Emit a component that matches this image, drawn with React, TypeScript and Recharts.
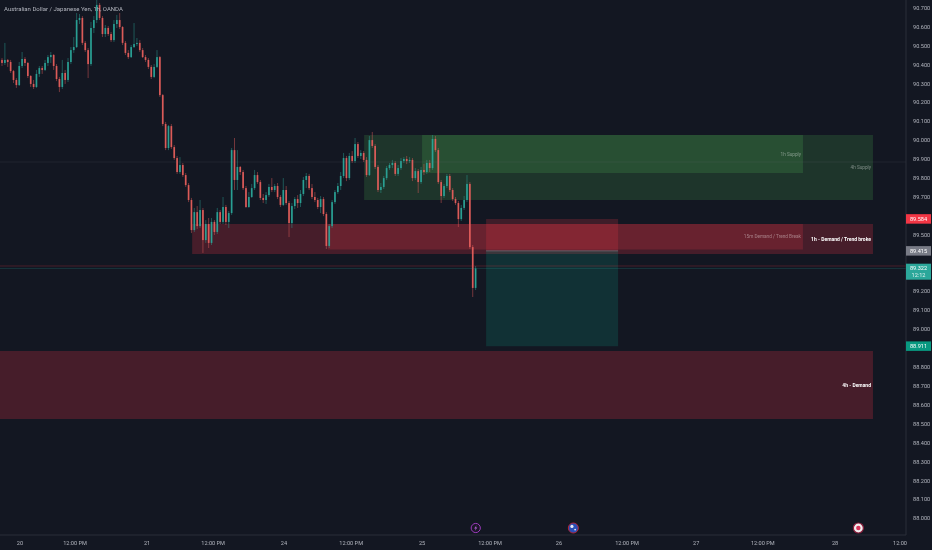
import { Bar, ComposedChart, Label, ReferenceArea, ReferenceDot, ReferenceLine, XAxis, YAxis } from 'recharts';

const BG = '#131722';
const UP = '#2ba79a';
const DOWN = '#e85f5c';
const GRID = '#2a2e39';
const TEXT = '#b2b5be';
const FONT = 'Roboto, sans-serif';

const TITLE = 'Australian Dollar / Japanese Yen, 1h, OANDA';

const FIRST_OPEN = 90.425;
const CLOSE = [
  90.409, 90.425, 90.414, 90.366, 90.319, 90.292, 90.393, 90.43, 90.409, 90.34,
  90.298, 90.282, 90.351, 90.382, 90.372, 90.409, 90.44, 90.451, 90.393, 90.324,
  90.282, 90.356, 90.319, 90.414, 90.477, 90.493, 90.636, 90.647, 90.515, 90.477,
  90.403, 90.594, 90.636, 90.716, 90.647, 90.562, 90.594, 90.562, 90.53, 90.615,
  90.636, 90.599, 90.515, 90.462, 90.44, 90.493, 90.509, 90.515, 90.477, 90.44,
  90.425, 90.388, 90.335, 90.388, 90.44, 90.239, 90.086, 89.959, 90.075, 89.964,
  89.906, 89.832, 89.869, 89.816, 89.763, 89.684, 89.525, 89.62, 89.546, 89.631,
  89.472, 89.557, 89.457, 89.568, 89.515, 89.62, 89.568, 89.647, 89.568, 89.615,
  89.948, 89.79, 89.859, 89.832, 89.747, 89.647, 89.7, 89.747, 89.816, 89.779,
  89.695, 89.684, 89.71, 89.753, 89.737, 89.758, 89.7, 89.658, 89.737, 89.668,
  89.562, 89.652, 89.689, 89.668, 89.716, 89.79, 89.811, 89.747, 89.7, 89.684,
  89.647, 89.689, 89.61, 89.441, 89.546, 89.673, 89.726, 89.758, 89.811, 89.906,
  89.8, 89.917, 89.89, 89.98, 89.917, 89.933, 89.896, 89.816, 90.001, 89.97,
  89.859, 89.737, 89.753, 89.8, 89.853, 89.869, 89.88, 89.822, 89.853, 89.89,
  89.901, 89.89, 89.896, 89.8, 89.837, 89.779, 89.843, 89.832, 89.88, 89.853,
  90.007, 89.948, 89.779, 89.705, 89.758, 89.811, 89.737, 89.689, 89.668, 89.583,
  89.642, 89.684, 89.769, 89.435, 89.219, 89.322,
];
const HIGH = [
  90.435, 90.515, 90.43, 90.425, 90.372, 90.329, 90.414, 90.467, 90.44, 90.414,
  90.345, 90.319, 90.372, 90.393, 90.393, 90.425, 90.451, 90.467, 90.456, 90.403,
  90.335, 90.425, 90.372, 90.435, 90.493, 90.546, 90.673, 90.668, 90.657, 90.525,
  90.488, 90.626, 90.657, 90.742, 90.726, 90.657, 90.61, 90.604, 90.573, 90.636,
  90.663, 90.673, 90.604, 90.525, 90.477, 90.504, 90.62, 90.541, 90.53, 90.488,
  90.451, 90.435, 90.398, 90.403, 90.477, 90.446, 90.245, 90.097, 90.081, 90.086,
  89.975, 89.917, 89.911, 89.88, 89.827, 89.774, 89.695, 89.642, 89.652, 89.684,
  89.642, 89.578, 89.589, 89.589, 89.578, 89.642, 89.631, 89.7, 89.658, 89.626,
  89.959, 90.012, 89.948, 89.864, 89.843, 89.758, 89.726, 89.769, 89.843, 89.832,
  89.79, 89.716, 89.726, 89.769, 89.8, 89.769, 89.774, 89.71, 89.8, 89.758,
  89.679, 89.668, 89.7, 89.71, 89.737, 89.806, 89.827, 89.822, 89.769, 89.726,
  89.695, 89.705, 89.7, 89.62, 89.557, 89.684, 89.737, 89.774, 89.832, 89.933,
  89.917, 89.933, 89.943, 90.012, 89.991, 89.948, 89.943, 89.911, 90.023, 90.044,
  89.98, 89.869, 89.774, 89.811, 89.864, 89.88, 89.896, 89.89, 89.869, 89.906,
  89.911, 89.917, 89.911, 89.906, 89.853, 89.848, 89.859, 89.875, 89.896, 89.896,
  90.028, 90.023, 89.959, 89.79, 89.769, 89.822, 89.822, 89.747, 89.7, 89.679,
  89.658, 89.705, 89.816, 89.779, 89.446, 89.335,
];
const LOW = [
  90.393, 90.398, 90.388, 90.356, 90.303, 90.277, 90.287, 90.382, 90.393, 90.329,
  90.282, 90.271, 90.277, 90.335, 90.351, 90.366, 90.393, 90.409, 90.372, 90.313,
  90.255, 90.271, 90.298, 90.308, 90.403, 90.462, 90.488, 90.615, 90.504, 90.467,
  90.329, 90.393, 90.567, 90.62, 90.636, 90.546, 90.546, 90.552, 90.52, 90.52,
  90.594, 90.589, 90.504, 90.451, 90.43, 90.435, 90.488, 90.499, 90.467, 90.435,
  90.414, 90.377, 90.324, 90.329, 90.382, 90.229, 90.075, 89.948, 89.948, 89.954,
  89.896, 89.822, 89.822, 89.806, 89.753, 89.673, 89.509, 89.515, 89.531, 89.536,
  89.404, 89.457, 89.43, 89.446, 89.499, 89.504, 89.557, 89.557, 89.552, 89.536,
  89.605, 89.737, 89.737, 89.816, 89.737, 89.642, 89.642, 89.695, 89.737, 89.769,
  89.684, 89.668, 89.663, 89.7, 89.726, 89.726, 89.689, 89.647, 89.652, 89.658,
  89.488, 89.536, 89.636, 89.642, 89.647, 89.705, 89.747, 89.737, 89.689, 89.673,
  89.636, 89.615, 89.599, 89.425, 89.43, 89.536, 89.663, 89.716, 89.737, 89.8,
  89.784, 89.79, 89.88, 89.88, 89.906, 89.901, 89.885, 89.806, 89.811, 89.959,
  89.848, 89.726, 89.721, 89.742, 89.79, 89.843, 89.853, 89.811, 89.811, 89.843,
  89.88, 89.874, 89.88, 89.784, 89.79, 89.721, 89.769, 89.816, 89.822, 89.832,
  89.843, 89.938, 89.769, 89.668, 89.695, 89.747, 89.726, 89.679, 89.658, 89.541,
  89.573, 89.631, 89.673, 89.425, 89.171, 89.208,
];

// 89.600, 89.400, 89.300 and 88.900 sit under the price tags
const PRICE_TICKS = [
  88.0, 88.1, 88.2, 88.3, 88.4, 88.5, 88.6, 88.7, 88.8, 89.0, 89.1, 89.2,
  89.5, 89.7, 89.8, 89.9, 90.0, 90.1, 90.2, 90.3, 90.4, 90.5, 90.6, 90.7,
];
const TIME_TICKS = [6.2, 25.4, 50.5, 73.5, 98.2, 121.6, 146.3, 170, 194, 217.7, 241.8, 265, 290.2, 312.8];
const TIME_LABELS = [
  '20', '12:00 PM', '21', '12:00 PM', '24', '12:00 PM', '25', '12:00 PM', '26', '12:00 PM', '27', '12:00 PM', '28', '12:00',
];

const X_MIN = -0.75;
const X_MAX = 314.9;
const Y_MIN = 87.912;
const Y_MAX = 90.742;

const candles = CLOSE.map((close, i) => ({
  i,
  open: i === 0 ? FIRST_OPEN : CLOSE[i - 1],
  close,
  high: HIGH[i],
  low: LOW[i],
}));

function Candle(props: any) {
  const { x, y, width, height, payload } = props;
  const k = payload.high === payload.low ? 0 : height / (payload.high - payload.low);
  const yOpen = y + (payload.high - payload.open) * k;
  const yClose = y + (payload.high - payload.close) * k;
  const color = payload.close >= payload.open ? UP : DOWN;
  const mid = x + width / 2;
  return (
    <g>
      <line x1={mid} x2={mid} y1={y} y2={y + height} stroke={color} strokeWidth={0.7} strokeOpacity={0.65} />
      <rect
        x={mid - 0.85}
        y={Math.min(yOpen, yClose)}
        width={1.7}
        height={Math.max(Math.abs(yClose - yOpen), 0.7)}
        fill={color}
        fillOpacity={0.9}
      />
    </g>
  );
}

function PriceTag({ cx, cy, color, text, sub }: any) {
  const h = sub ? 16 : 9.5;
  return (
    <g fontFamily={FONT} fontSize={5.6} fill="#fff" textAnchor="middle">
      <rect x={cx} y={cy - 4.75} width={25} height={h} fill={color} />
      <text x={cx + 12.5} y={cy + 2}>{text}</text>
      {sub && <text x={cx + 12.5} y={cy + 8.8} fillOpacity={0.85}>{sub}</text>}
    </g>
  );
}

function BoltIcon({ cx, cy }: any) {
  return (
    <g>
      <circle cx={cx} cy={cy} r={4.6} fill="#1a1626" stroke="#9c3bbd" strokeWidth={1} />
      <path
        d={`M${cx + 1} ${cy - 3}L${cx - 1.6} ${cy + 0.4}H${cx}L${cx - 1} ${cy + 3}L${cx + 1.6} ${cy - 0.5}H${cx}Z`}
        fill="#b561d6"
      />
    </g>
  );
}

function FlagIcon({ cx, cy }: any) {
  return (
    <g>
      <circle cx={cx} cy={cy} r={5} fill="#2a4fb8" stroke="#b3263a" strokeWidth={1} />
      <circle cx={cx - 1.4} cy={cy - 1.6} r={1.6} fill="#e8e8f2" />
      <circle cx={cx + 1.8} cy={cy + 1.6} r={0.9} fill="#e8e8f2" />
    </g>
  );
}

function TargetIcon({ cx, cy }: any) {
  return (
    <g>
      <circle cx={cx} cy={cy} r={5} fill="#f2eef0" stroke="#8a1f3c" strokeWidth={1.2} />
      <circle cx={cx} cy={cy} r={2.2} fill="#d8345a" />
    </g>
  );
}

const zoneLabel = (value: string, fill: string, fontWeight = 400) => (
  <Label
    value={value}
    position="insideRight"
    offset={2}
    fontSize={fontWeight === 700 ? 5 : 4.7}
    fontFamily={FONT}
    fontWeight={fontWeight}
    fill={fill}
  />
);

export default function App() {
  return (
    <div style={{ position: 'relative', width: 932, height: 550, background: BG, overflow: 'hidden', filter: 'blur(0.3px)' }}>
      <style>{`body{margin:0;background:${BG}}`}</style>
      <ComposedChart width={932} height={550} data={candles} margin={{ top: 0, right: 0, bottom: 0, left: 0 }}>
        <XAxis
          dataKey="i"
          type="number"
          domain={[X_MIN, X_MAX]}
          allowDataOverflow
          ticks={TIME_TICKS}
          interval={0}
          height={15}
          tickFormatter={(v: number) => TIME_LABELS[TIME_TICKS.indexOf(v)]}
          tick={{ fontSize: 5.6, fontFamily: FONT, fill: TEXT }}
          tickLine={false}
          tickSize={4}
          stroke={GRID}
        />
        <YAxis
          orientation="right"
          width={26}
          domain={[Y_MIN, Y_MAX]}
          allowDataOverflow
          ticks={PRICE_TICKS}
          interval={0}
          tickFormatter={(v: number) => v.toFixed(3)}
          tick={{ fontSize: 5.6, fontFamily: FONT, fill: TEXT, textAnchor: 'start' }}
          tickLine={false}
          tickSize={5}
          stroke={GRID}
        />

        <ReferenceArea x1={126.1} x2={303.4} y1={89.684} y2={90.028} fill="#4caf50" fillOpacity={0.2} stroke="none" ifOverflow="hidden">
          {zoneLabel('4h Supply', 'rgba(255,255,255,0.4)')}
        </ReferenceArea>
        <ReferenceArea x1={146.3} x2={279} y1={89.827} y2={90.028} fill="#4caf50" fillOpacity={0.22} stroke="none" ifOverflow="hidden">
          {zoneLabel('1h Supply', 'rgba(255,255,255,0.4)')}
        </ReferenceArea>
        <ReferenceArea x1={66.2} x2={303.4} y1={89.398} y2={89.557} fill="#f23645" fillOpacity={0.23} stroke="none" ifOverflow="hidden">
          {zoneLabel('1h - Demand / Trend broke', '#fff', 700)}
        </ReferenceArea>
        <ReferenceArea x1={113.5} x2={279} y1={89.422} y2={89.557} fill="#f23645" fillOpacity={0.2} stroke="none" ifOverflow="hidden">
          {zoneLabel('15m Demand / Trend Break', 'rgba(255,255,255,0.4)')}
        </ReferenceArea>
        <ReferenceArea x1={168.6} x2={214.6} y1={89.415} y2={89.584} fill="#f23645" fillOpacity={0.2} stroke="none" ifOverflow="hidden" />
        <ReferenceArea x1={168.6} x2={214.6} y1={88.911} y2={89.415} fill="#089981" fillOpacity={0.2} stroke="none" ifOverflow="hidden" />
        <ReferenceArea x1={X_MIN} x2={303.4} y1={88.525} y2={88.885} fill="#f23645" fillOpacity={0.23} stroke="none" ifOverflow="hidden">
          {zoneLabel('4h - Demand', '#fff', 700)}
        </ReferenceArea>

        <ReferenceLine y={89.885} stroke="#787b86" strokeOpacity={0.2} strokeWidth={0.7} />
        <ReferenceLine y={89.335} stroke="#f23645" strokeOpacity={0.35} strokeWidth={0.7} />
        <ReferenceLine y={89.322} stroke={UP} strokeOpacity={0.3} strokeWidth={0.7} />
        <ReferenceLine
          segment={[{ x: 168.6, y: 89.415 }, { x: 214.6, y: 89.415 }]}
          stroke="#787b86"
          strokeOpacity={0.8}
          strokeWidth={0.8}
        />

        <Bar
          dataKey={(d: any) => [d.low, d.high]}
          barSize={3}
          isAnimationActive={false}
          shape={Candle}
        />

        <ReferenceDot x={X_MAX} y={89.584} ifOverflow="visible" shape={(p: any) => <PriceTag {...p} color="#f23645" text="89.584" />} />
        <ReferenceDot x={X_MAX} y={89.415} ifOverflow="visible" shape={(p: any) => <PriceTag {...p} color="#787b86" text="89.415" />} />
        <ReferenceDot x={X_MAX} y={89.322} ifOverflow="visible" shape={(p: any) => <PriceTag {...p} color={UP} text="89.322" sub="12:12" />} />
        <ReferenceDot x={X_MAX} y={88.911} ifOverflow="visible" shape={(p: any) => <PriceTag {...p} color="#089981" text="88.911" />} />

        <ReferenceDot x={165} y={87.949} ifOverflow="visible" shape={BoltIcon} />
        <ReferenceDot x={199} y={87.949} ifOverflow="visible" shape={FlagIcon} />
        <ReferenceDot x={298.3} y={87.949} ifOverflow="visible" shape={TargetIcon} />
      </ComposedChart>
      <div
        style={{
          position: 'absolute',
          left: 4,
          top: 4,
          fontFamily: FONT,
          fontSize: 6,
          lineHeight: '9px',
          color: TEXT,
          whiteSpace: 'nowrap',
        }}
      >
        {TITLE}
      </div>
    </div>
  );
}
